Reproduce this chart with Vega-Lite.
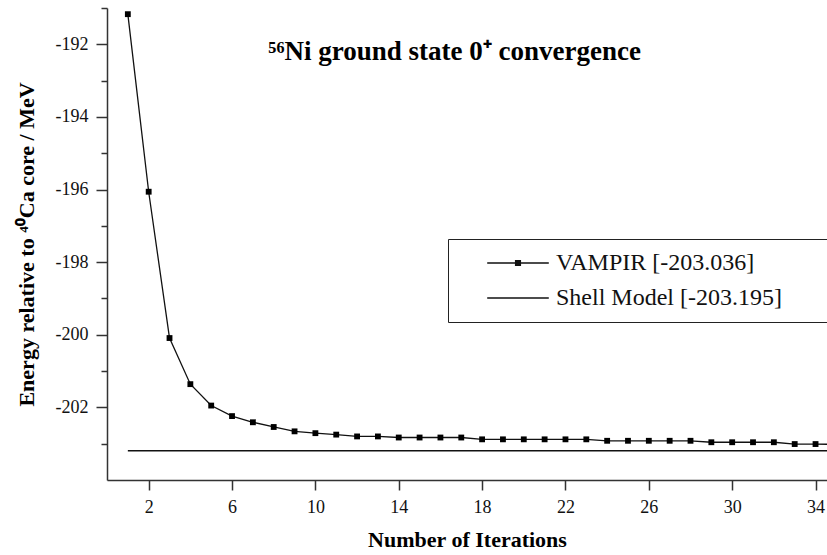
{
  "$schema": "https://vega.github.io/schema/vega-lite/v6.json",
  "width": 720,
  "height": 472,
  "autosize": {"type": "none"},
  "padding": {"left": 107, "top": 8, "right": 0, "bottom": 75},
  "background": "white",
  "config": {
    "view": {"stroke": null},
    "font": "Liberation Serif",
    "axis": {
      "domainColor": "#333",
      "domainWidth": 1.5,
      "tickColor": "#333",
      "tickWidth": 1.5,
      "grid": false,
      "labelFont": "Liberation Serif",
      "labelFontSize": 18,
      "labelColor": "#111",
      "titleFont": "Liberation Serif",
      "titleFontWeight": "bold",
      "titleFontSize": 22,
      "titleColor": "#000"
    }
  },
  "datasets": {
    "vampir": [
      {"iteration": 1, "energy": -191.17},
      {"iteration": 2, "energy": -196.06},
      {"iteration": 3, "energy": -200.09},
      {"iteration": 4, "energy": -201.36},
      {"iteration": 5, "energy": -201.95},
      {"iteration": 6, "energy": -202.24},
      {"iteration": 7, "energy": -202.41},
      {"iteration": 8, "energy": -202.54},
      {"iteration": 9, "energy": -202.66},
      {"iteration": 10, "energy": -202.71},
      {"iteration": 11, "energy": -202.75},
      {"iteration": 12, "energy": -202.8},
      {"iteration": 13, "energy": -202.8},
      {"iteration": 14, "energy": -202.83},
      {"iteration": 15, "energy": -202.83},
      {"iteration": 16, "energy": -202.83},
      {"iteration": 17, "energy": -202.83},
      {"iteration": 18, "energy": -202.88},
      {"iteration": 19, "energy": -202.88},
      {"iteration": 20, "energy": -202.88},
      {"iteration": 21, "energy": -202.88},
      {"iteration": 22, "energy": -202.88},
      {"iteration": 23, "energy": -202.88},
      {"iteration": 24, "energy": -202.92},
      {"iteration": 25, "energy": -202.92},
      {"iteration": 26, "energy": -202.92},
      {"iteration": 27, "energy": -202.92},
      {"iteration": 28, "energy": -202.92},
      {"iteration": 29, "energy": -202.96},
      {"iteration": 30, "energy": -202.96},
      {"iteration": 31, "energy": -202.96},
      {"iteration": 32, "energy": -202.96},
      {"iteration": 33, "energy": -203.01},
      {"iteration": 34, "energy": -203.01},
      {"iteration": 35, "energy": -203.02}
    ],
    "shell": [
      {"start": 1, "end": 36, "energy": -203.195}
    ],
    "series": [
      {"series": "VAMPIR [-203.036]"},
      {"series": "Shell Model [-203.195]"}
    ],
    "annotation": [
      {"iteration": 7.74, "energy": -192.22, "label": "⁵⁶Ni ground state 0⁺ convergence"}
    ]
  },
  "layer": [
    {
      "data": {"name": "shell"},
      "mark": {"type": "rule", "color": "#111", "strokeWidth": 1.3, "clip": true},
      "encoding": {
        "x": {"field": "start", "type": "quantitative"},
        "x2": {"field": "end"},
        "y": {"field": "energy", "type": "quantitative"}
      }
    },
    {
      "data": {"name": "vampir"},
      "mark": {"type": "line", "color": "#111", "strokeWidth": 1.3, "clip": true},
      "encoding": {
        "x": {
          "field": "iteration", "type": "quantitative",
          "scale": {"domain": [0, 34.55], "nice": false, "zero": false},
          "axis": {
            "values": [2, 6, 10, 14, 18, 22, 26, 30, 34],
            "tickCount": 40,
            "tickSize": 10,
            "labelPadding": 8,
            "titlePadding": 13,
            "title": "Number of Iterations"
          }
        },
        "y": {
          "field": "energy", "type": "quantitative",
          "scale": {"domain": [-204, -191], "nice": false, "zero": false},
          "axis": {
            "values": [-203, -202, -201, -200, -199, -198, -197, -196, -195, -194, -193, -192, -191],
            "tickCount": 40,
            "labelExpr": "(datum.value % 2 == 0) ? ('-' + abs(datum.value)) : ''",
            "labelOverlap": false,
            "tickSize": {"condition": {"test": "datum.value % 2 != 0", "value": 6}, "value": 11},
            "labelPadding": 8,
            "titlePadding": 17,
            "title": "Energy relative to ⁴⁰Ca core / MeV"
          }
        }
      }
    },
    {
      "data": {"name": "vampir"},
      "mark": {"type": "point", "shape": "square", "filled": true, "color": "#000", "size": 34, "opacity": 1, "clip": true},
      "encoding": {
        "x": {"field": "iteration", "type": "quantitative"},
        "y": {"field": "energy", "type": "quantitative"}
      }
    },
    {
      "data": {"name": "series"},
      "mark": {"type": "point", "opacity": 0, "filled": false},
      "encoding": {
        "x": {"datum": 1, "type": "quantitative"},
        "y": {"datum": -200, "type": "quantitative"},
        "shape": {
          "field": "series", "type": "nominal",
          "scale": {
            "domain": ["VAMPIR [-203.036]", "Shell Model [-203.195]"],
            "range": ["M-2.8,0H2.8M-0.22,-0.22H0.22V0.22H-0.22ZM-0.12,-0.12H0.12V0.12H-0.12ZM-0.04,-0.04H0.04V0.04H-0.04Z", "M-2.8,0H2.8"]
          },
          "legend": {
            "orient": "none",
            "legendX": 341,
            "legendY": 231,
            "title": ".",
            "titleOrient": "right",
            "titleColor": "white",
            "titleFontSize": 8,
            "titlePadding": 40,
            "strokeColor": "#222",
            "fillColor": "white",
            "padding": 12,
            "symbolSize": 484,
            "symbolOffset": 46,
            "labelOffset": 26,
            "labelFont": "Liberation Serif",
            "labelFontSize": 24,
            "labelColor": "#111",
            "labelLimit": 700,
            "rowPadding": 11,
            "symbolStrokeWidth": 1.3,
            "symbolStrokeColor": "#111",
            "symbolFillColor": "#000",
            "encode": {
              "symbols": {
                "update": {
                  "fill": {"value": "#000"},
                  "stroke": {"value": "#111"},
                  "opacity": {"value": 1}
                }
              }
            }
          }
        }
      }
    },
    {
      "data": {"name": "annotation"},
      "mark": {"type": "text", "font": "Liberation Serif", "fontWeight": "bold", "fontSize": 27, "align": "left", "baseline": "middle", "color": "#000"},
      "encoding": {
        "x": {"field": "iteration", "type": "quantitative"},
        "y": {"field": "energy", "type": "quantitative"},
        "text": {"field": "label"}
      }
    }
  ]
}
